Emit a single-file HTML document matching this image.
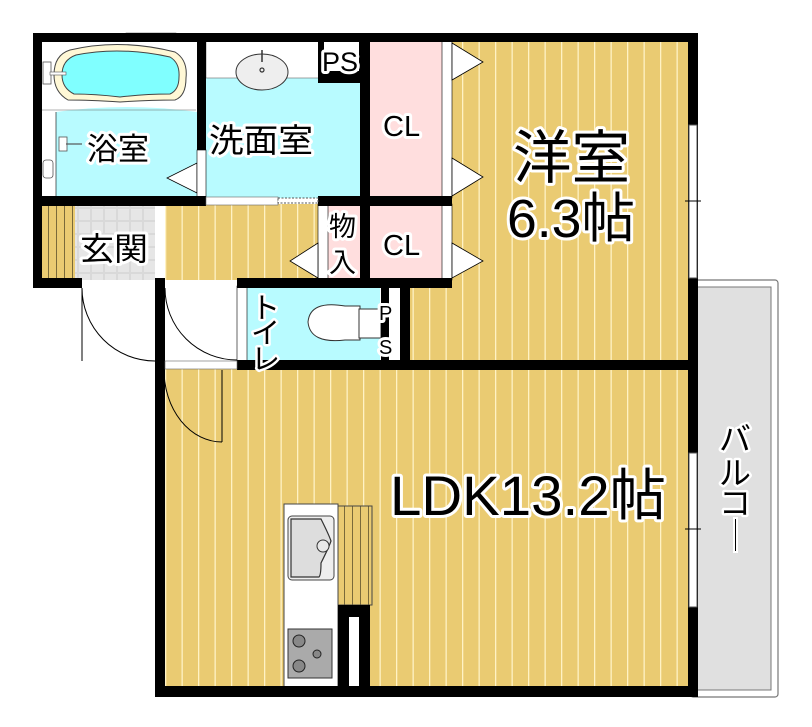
<!DOCTYPE html>
<html><head><meta charset="utf-8"><style>
html,body{margin:0;padding:0;background:#fff;}
svg{display:block;}
text{font-family:"Liberation Sans","Noto Sans CJK JP",sans-serif;paint-order:stroke;stroke:#fff;stroke-linejoin:round;fill:#000;}
</style></head><body>
<svg width="812" height="727" viewBox="0 0 812 727" xmlns="http://www.w3.org/2000/svg">
<defs>
<pattern id="wood" width="16.5" height="10" patternUnits="userSpaceOnUse">
<rect width="16.5" height="10" fill="#EACB72"/>
<rect x="0" width="1.3" height="10" fill="#FFF2C4"/>
</pattern>
<pattern id="wood2" width="8" height="10" patternUnits="userSpaceOnUse">
<rect width="8" height="10" fill="#EACB72"/>
<rect x="0" width="1" height="10" fill="#7a6a3a"/>
</pattern>
<pattern id="tile" width="13" height="13" patternUnits="userSpaceOnUse">
<rect width="13" height="13" fill="#d9d9d9"/>
<rect x="1" y="1" width="11" height="11" fill="#e6e6e6"/>
</pattern>
</defs>

<rect x="690" y="280" width="88" height="417" rx="3" fill="#fff" stroke="#777" stroke-width="1.2"/>
<rect x="697" y="287" width="74" height="403" fill="#e0e0e0" stroke="#777" stroke-width="1"/>

<rect x="443" y="40" width="247" height="322" fill="url(#wood)"/>
<rect x="408" y="286" width="40" height="76" fill="url(#wood)"/>
<rect x="163" y="368" width="527" height="320" fill="url(#wood)"/>
<rect x="163" y="204" width="157" height="76" fill="url(#wood)"/>
<rect x="163" y="286" width="76" height="76" fill="#fff"/>
<rect x="42" y="206" width="33" height="74" fill="url(#wood2)"/>
<rect x="75" y="206" width="80" height="74" fill="url(#tile)"/>
<rect x="155" y="206" width="10" height="74" fill="#fff"/>

<rect x="370" y="40" width="73" height="158" fill="#FFDEDE"/>
<rect x="370" y="204" width="73" height="76" fill="#FFDEDE"/>
<rect x="328" y="204" width="34" height="76" fill="#FFDEDE"/>
<rect x="318" y="204" width="10" height="76" fill="#fff" stroke="#000" stroke-width="0.6"/>
<rect x="442" y="40" width="10" height="158" fill="#fff" stroke="#000" stroke-width="0.6"/>
<rect x="442" y="204" width="10" height="76" fill="#fff" stroke="#000" stroke-width="0.6"/>

<rect x="42" y="40" width="157" height="158" fill="#fff"/>
<path d="M56 112 Q126 102 197 112 L197 196 L56 196 Z" fill="#B8FBFF"/>
<line x1="56" y1="112" x2="56" y2="196" stroke="#000" stroke-width="0.6"/>
<line x1="42" y1="110" x2="196" y2="110" stroke="#666" stroke-width="0.6"/>
<rect x="126" y="33" width="50" height="8" fill="#fff" stroke="#666" stroke-width="0.6"/>
<path d="M70 50 Q120 38 175 52 Q188 60 186 78 Q186 96 175 100 Q150 100 120 102 Q90 100 68 100 Q54 92 54 75 Q54 55 70 50 Z" fill="#FFF8D6" stroke="#444" stroke-width="1"/>
<path d="M76 55 Q120 46 170 57 Q180 63 179 77 Q179 90 170 94 Q145 94 120 97 Q95 94 74 94 Q62 88 62 75 Q62 60 76 55 Z" fill="#80FFFF" stroke="#444" stroke-width="1"/>
<rect x="43" y="62" width="8" height="22" fill="#fff" stroke="#555" stroke-width="0.8"/>
<rect x="50" y="72" width="16" height="3" fill="#fff" stroke="#555" stroke-width="0.6"/>
<rect x="59" y="137" width="8" height="14" fill="#fff" stroke="#555" stroke-width="0.8"/>
<line x1="66" y1="144" x2="82" y2="144" stroke="#555" stroke-width="1.2"/>
<rect x="43" y="160" width="10" height="18" rx="3" fill="#fff" stroke="#555" stroke-width="0.8"/>
<polygon points="197,163 197,193 167,178" fill="#fff" stroke="#000" stroke-width="0.8"/>

<rect x="206" y="40" width="154" height="158" fill="#B8FBFF"/>
<rect x="206" y="40" width="113" height="38" fill="#fff" stroke="#666" stroke-width="0.6"/>
<ellipse cx="262" cy="72" rx="26" ry="18" fill="#eee" stroke="#333" stroke-width="1"/>
<circle cx="262" cy="70" r="2" fill="none" stroke="#333" stroke-width="1.2"/>
<line x1="262" y1="50" x2="262" y2="62" stroke="#333" stroke-width="1.5"/>
<rect x="318" y="40" width="44" height="43" fill="#000"/>
<rect x="324" y="41" width="35" height="30" fill="#fff"/>
<rect x="197" y="150" width="9" height="48" fill="#fff" stroke="#000" stroke-width="0.6"/>

<rect x="239" y="286" width="163" height="76" fill="#B8FBFF"/>
<rect x="237" y="286" width="10" height="76" fill="#fff" stroke="#000" stroke-width="0.6"/>
<rect x="380" y="286" width="21" height="76" fill="#fff"/>
<path d="M360 306 L345 306 Q310 300 308 322 Q310 344 345 340 L360 340 Z" fill="#fff" stroke="#333" stroke-width="1"/>
<rect x="359" y="309" width="22" height="29" fill="#fff" stroke="#333" stroke-width="1"/>

<rect x="284" y="504" width="54" height="184" fill="#fff" stroke="#444" stroke-width="1"/>
<rect x="288" y="516" width="46" height="64" rx="4" fill="#eee" stroke="#444" stroke-width="1"/>
<path d="M291 519 h30 q8 16 10 22 q-2 6 -10 22 q0 12 -2 14 h-28 z" fill="#ddd" stroke="#333" stroke-width="1.2"/>
<circle cx="323" cy="546" r="6" fill="#e8e8e8" stroke="#333" stroke-width="1"/>
<rect x="288" y="629" width="44" height="49" fill="#aaa" stroke="#333" stroke-width="1"/>
<circle cx="299" cy="641" r="6" fill="#888" stroke="#222"/>
<circle cx="299" cy="666" r="6" fill="#888" stroke="#222"/>
<circle cx="317" cy="654" r="4" fill="#888" stroke="#222"/>
<rect x="338" y="506" width="34" height="99" fill="url(#wood2)" stroke="#444" stroke-width="1"/>
<rect x="338" y="605" width="32" height="90" fill="#000"/>
<rect x="349" y="617" width="10" height="71" fill="#fff"/>

<g fill="#000">
<rect x="33" y="33" width="664" height="9"/>
<rect x="33" y="33" width="9" height="255"/>
<rect x="33" y="278" width="49" height="10"/>
<rect x="155" y="278" width="10" height="419"/>
<rect x="155" y="686" width="542" height="11"/>
<rect x="688" y="33" width="10" height="664"/>
<rect x="197" y="33" width="9" height="117"/>
<rect x="33" y="196" width="173" height="10"/>
<rect x="360" y="33" width="10" height="255"/>
<rect x="318" y="196" width="134" height="10"/>
<rect x="237" y="278" width="215" height="10"/>
<rect x="237" y="360" width="460" height="10"/>
<rect x="400" y="278" width="10" height="92"/>
<rect x="381" y="288" width="8" height="72"/>
</g>
<rect x="206" y="197" width="72" height="8" fill="#fff" stroke="#666" stroke-width="0.6"/>
<rect x="278" y="198" width="40" height="5" fill="#fff" stroke="#555" stroke-width="1" stroke-dasharray="2,1.5"/>
<rect x="165" y="361" width="72" height="8" fill="#fff" stroke="#666" stroke-width="0.6"/>

<rect x="689" y="125" width="8" height="153" fill="#fff" stroke="#555" stroke-width="1"/>
<line x1="685" y1="201" x2="701" y2="201" stroke="#000" stroke-width="1"/>
<rect x="689" y="453" width="8" height="154" fill="#fff" stroke="#555" stroke-width="1"/>
<line x1="685" y1="529" x2="701" y2="529" stroke="#000" stroke-width="1"/>

<g fill="none" stroke="#000" stroke-width="1">
<path d="M82 288 A73 73 0 0 0 155 361"/>
<line x1="82" y1="288" x2="82" y2="361"/>
<path d="M165 288 A72 72 0 0 0 237 360"/>
<path d="M164 370 A58 72 0 0 0 222 442"/>
<line x1="222" y1="370" x2="222" y2="442"/>
</g>

<g fill="#fff" stroke="#000" stroke-width="0.8">
<polygon points="452,43 452,80 483,62"/>
<polygon points="452,158 452,196 483,177"/>
<polygon points="452,243 452,278 483,261"/>
<polygon points="318,243 318,278 290,261"/>
</g>

<g stroke-width="6">
<text x="87" y="160" font-size="31">浴室</text>
<text x="209" y="152" font-size="33" textLength="104" lengthAdjust="spacingAndGlyphs">洗面室</text>
<text x="80" y="260" font-size="32" textLength="68" lengthAdjust="spacingAndGlyphs">玄関</text>
<text x="322" y="71" font-size="27">PS</text>
<text x="383" y="136" font-size="29">CL</text>
<text x="383" y="255" font-size="29">CL</text>
<text x="329" y="236" font-size="27">物</text>
<text x="329" y="272" font-size="27">入</text>
<text x="513" y="178" font-size="58" textLength="117" lengthAdjust="spacingAndGlyphs">洋室</text>
<text x="507" y="237" font-size="54" textLength="128" lengthAdjust="spacingAndGlyphs">6.3帖</text>
<text x="390" y="515" font-size="56" textLength="276" lengthAdjust="spacingAndGlyphs">LDK13.2帖</text>
<text x="379" y="320" font-size="20">P</text>
<text x="379" y="354" font-size="20">S</text>
</g>
<g stroke-width="5" font-size="29">
<text x="251" y="318">ト</text>
<text x="251" y="343">イ</text>
<text x="251" y="369">レ</text>
<text x="719" y="450" font-size="32">バ</text>
<text x="719" y="484" font-size="32">ル</text>
<text x="719" y="514" font-size="32">コ</text>
<rect x="734" y="518" width="3" height="34" fill="#000" stroke="#fff" stroke-width="2"/>
</g>
</svg>
</body></html>
